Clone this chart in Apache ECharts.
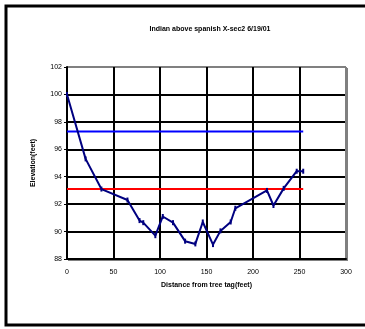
<!DOCTYPE html>
<html><head><meta charset="utf-8">
<script src="https://cdn.jsdelivr.net/npm/echarts@6/dist/echarts.min.js"></script>
<style>html,body{margin:0;padding:0;background:#fff}#c{width:365px;height:329px}</style>
</head><body><div id="c"></div>
<script>
var titleText = 'Indian above spanish X-sec2 6/19/01';
var xName = 'Distance from tree tag(feet)';
var yName = 'Elevation(feet)';
var distance = [0, 20, 37, 65, 78, 82, 95, 103, 114, 127, 138, 146, 157, 165, 176, 181, 215, 222, 233, 247, 254];
var elevation = [100, 95.3, 93.1, 92.3, 90.8, 90.65, 89.7, 91.1, 90.65, 89.3, 89.1, 90.7, 89.05, 90.05, 90.7, 91.7, 93.0, 91.9, 93.15, 94.4, 94.4];
var blueX = [0, 254], blueY = [97.3, 97.3];
var redX = [0, 254], redY = [93.1, 93.1];

function pairs(xs, ys){ return xs.map(function(x,i){return [x, ys[i]];}); }

var chart = echarts.init(document.getElementById('c'), null, {renderer:'canvas'});
var font = 'Liberation Sans, Arial, sans-serif';
var ySplitColors = ['#000','#000','#000','#000','#000','#000','#000','#808080'];
var xSplitColors = ['#000','#000','#000','#000','#000','#000','#808080'];
chart.setOption({
  animation:false,
  backgroundColor:'#fff',
  title:{text:titleText,left:205,top:21,textAlign:'center',
    textStyle:{fontFamily:font,fontSize:7,fontWeight:'bold',color:'#000'}},
  graphic:[
    {type:'rect',shape:{x:6,y:6,width:370,height:319},style:{fill:null,stroke:'#000',lineWidth:3},z:-1},
    {type:'rect',shape:{x:346,y:68,width:2,height:192},style:{fill:'#808080'},z:0},
    {type:'rect',shape:{x:68,y:259,width:280,height:2},style:{fill:'#808080'},z:0}
  ],
  grid:{left:67,top:67,right:19,bottom:70,show:false},
  xAxis:{type:'value',min:0,max:300,interval:50,
    name:xName,nameLocation:'middle',nameGap:23,
    nameTextStyle:{fontFamily:font,fontSize:7,fontWeight:'bold',color:'#000'},
    axisLine:{show:true,lineStyle:{color:'#000',width:2}},
    axisTick:{show:false},
    axisLabel:{fontFamily:font,fontSize:7,color:'#000',margin:10},
    splitLine:{show:true,lineStyle:{color:xSplitColors,width:2}}},
  yAxis:{type:'value',min:88,max:102,interval:2,
    name:yName,nameLocation:'middle',nameGap:30,nameRotate:90,
    nameTextStyle:{fontFamily:font,fontSize:7,fontWeight:'bold',color:'#000'},
    axisLine:{show:true,lineStyle:{color:'#000',width:2}},
    axisTick:{show:true,length:3,lineStyle:{color:'#000',width:1}},
    axisLabel:{fontFamily:font,fontSize:7,color:'#000',margin:5},
    splitLine:{show:true,lineStyle:{color:ySplitColors,width:2}}},
  series:[
    {type:'line',data:pairs(blueX,blueY),symbol:'none',lineStyle:{color:'#0000ff',width:2},z:3},
    {type:'line',data:pairs(redX,redY),symbol:'none',lineStyle:{color:'#ff0000',width:2},z:3},
    {type:'line',data:pairs(distance,elevation),symbol:'rect',symbolSize:[2,5],
      itemStyle:{color:'#000080'},lineStyle:{color:'#000080',width:2},z:4}
  ]
});
</script></body></html>
